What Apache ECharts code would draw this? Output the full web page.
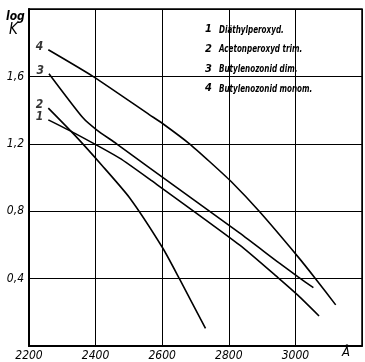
<!DOCTYPE html>
<html>
<head>
<meta charset="utf-8">
<script src="https://cdn.jsdelivr.net/npm/echarts@6/dist/echarts.min.js"></script>
<style>
html,body{margin:0;padding:0;background:#fff;}
#chart{width:365px;height:362px;}
</style>
</head>
<body>
<div id="chart"></div>
<script>
// Data (wavelength in Å, log K)
const curveIds = ['1', '2', '3', '4'];
const curveNames = ['Diäthylperoxyd.', 'Acetonperoxyd trim.', 'Butylenozonid dim.', 'Butylenozonid monom.'];

const wl1 = [2258, 2338, 2472, 2562, 2832, 2951, 3008, 3071];
const k1  = [1.342, 1.262, 1.115, 0.990, 0.600, 0.400, 0.300, 0.178];

const wl2 = [2258, 2338, 2420, 2502, 2602, 2652, 2730];
const k2  = [1.412, 1.250, 1.070, 0.880, 0.580, 0.398, 0.105];

const wl3 = [2260, 2362, 2403, 2463, 2562, 2832, 2951, 3008, 3054];
const k3  = [1.616, 1.354, 1.283, 1.200, 1.057, 0.671, 0.493, 0.410, 0.346];

const wl4 = [2258, 2392, 2562, 2602, 2682, 2742, 2807, 2892, 3008, 3061, 3121];
const k4  = [1.758, 1.600, 1.372, 1.319, 1.200, 1.095, 0.976, 0.798, 0.529, 0.398, 0.244];

const xTicks = [2200, 2400, 2600, 2800, 3000];
const yTicks = [0.4, 0.8, 1.2, 1.6];

const FONT = '"DejaVu Sans Condensed", "Liberation Sans Narrow", "Liberation Sans", sans-serif';

const seriesSets = [[wl1, k1], [wl2, k2], [wl3, k3], [wl4, k4]];

const chart = echarts.init(document.getElementById('chart'), null, { renderer: 'canvas' });

const legendGraphics = curveNames.map((n, i) => ({
  type: 'group',
  x: 205,
  y: 24 + i * 19.7,
  children: [
    { type: 'text', x: 0, y: 0, style: { text: curveIds[i], font: 'italic bold 11px ' + FONT, fill: '#000', stroke: '#fff', lineWidth: 3 } },
    { type: 'text', x: 14, y: 1, scaleX: 0.8, style: { text: n, font: 'italic bold 10px ' + FONT, fill: '#000', stroke: '#fff', lineWidth: 3 } }
  ]
}));

const lineSeries = seriesSets.map((s, i) => ({
  type: 'line', name: curveNames[i], symbol: 'none', smooth: 0.2,
  lineStyle: { color: '#000', width: 1.6 },
  data: s[0].map((x, j) => [x, s[1][j]]),
  z: 3
}));

const numberSeries = {
  type: 'scatter', symbolSize: 0, silent: true, z: 4,
  data: seriesSets.map((s, i) => ({ value: [s[0][0], s[1][0]], name: curveIds[i] })),
  label: {
    show: true, formatter: p => p.name, position: 'left', distance: 5, offset: [0, -3],
    fontFamily: FONT, fontStyle: 'italic', fontWeight: 'bold', fontSize: 12, color: '#000'
  }
};

chart.setOption({
  animation: false,
  backgroundColor: '#fff',
  grid: { left: 29, top: 9, right: 2, bottom: 16, show: true, borderColor: '#000', borderWidth: 1.5 },
  xAxis: {
    type: 'value', min: 2200, max: 3200, interval: 200,
    axisLine: { show: true, lineStyle: { color: '#000', width: 2 } },
    axisTick: { show: false },
    splitLine: { show: true, lineStyle: { color: '#000', width: 1 } },
    axisLabel: {
      color: '#000', fontFamily: FONT, fontStyle: 'italic', fontSize: 12, margin: 4,
      formatter: v => xTicks.indexOf(v) >= 0 ? String(v) : ''
    }
  },
  yAxis: {
    type: 'value', min: 0, max: 2.0, interval: 0.4,
    axisLine: { show: true, lineStyle: { color: '#000', width: 2 } },
    axisTick: { show: false },
    splitLine: { show: true, lineStyle: { color: '#000', width: 1 } },
    axisLabel: {
      color: '#000', fontFamily: FONT, fontStyle: 'italic', fontSize: 12, margin: 5,
      formatter: v => {
        const r = Math.round(v * 10) / 10;
        return yTicks.some(t => Math.abs(t - r) < 1e-6) ? r.toFixed(1).replace('.', ',') : '';
      }
    }
  },
  graphic: [
    { type: 'text', left: 6, top: 11, style: { text: 'log', font: 'italic bold 12px ' + FONT, fill: '#000' } },
    { type: 'text', left: 9, top: 23, style: { text: 'K', font: 'italic 15px ' + FONT, fill: '#000' } },
    { type: 'text', left: 342, top: 346, style: { text: 'Å', font: 'italic 13px ' + FONT, fill: '#000' } }
  ].concat(legendGraphics),
  series: lineSeries.concat([numberSeries])
});
</script>
</body>
</html>
